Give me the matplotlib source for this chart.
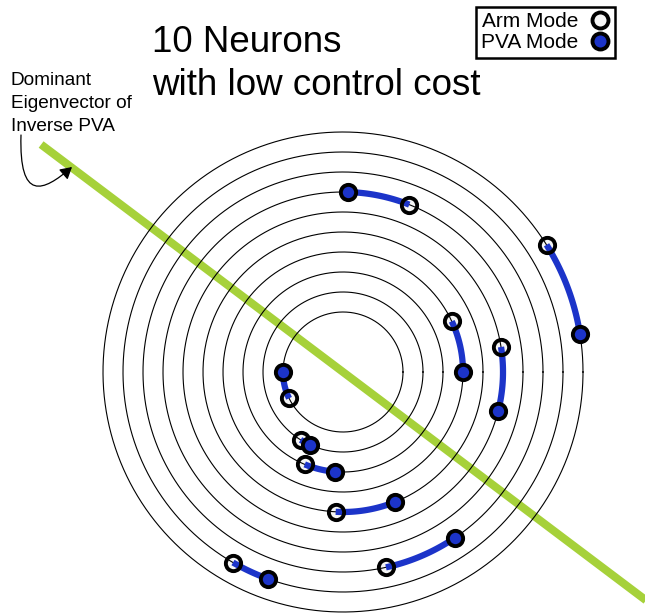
import numpy as np
import matplotlib
matplotlib.use('Agg')
import matplotlib.pyplot as plt
from matplotlib.path import Path
from matplotlib.patches import FancyArrowPatch
from matplotlib.lines import Line2D

plt.rcParams['font.family'] = ['Liberation Sans', 'DejaVu Sans']

# Dados: um anel por neuronio (raio em unidades de 20 px), angulos em graus
raios = [3, 4, 5, 6, 7, 8, 9, 10, 11, 12]
angulo_braco = [206, 238, 247.5, 25, 267, 9, 68.4, 282.4, 240, 32]
angulo_pva = [180, 246, 265.5, 0, 292, -14, 88.3, 304, 250, 9]
angulo_autovetor = 143.0   # direcao do autovetor dominante
comprimento_autovetor = (18.9, 25.0)

AZUL = '#1c34c9'
VERDE = '#a6d13a'
LARGURA, ALTURA = 645, 616
CX, CY = 343, 372   # centro dos aneis em pixels

fig = plt.figure(figsize=(LARGURA / 100, ALTURA / 100), dpi=100)
ax = fig.add_axes([0, 0, 1, 1])
ax.set_xlim(-CX / 20, (LARGURA - CX) / 20)
ax.set_ylim(-(ALTURA - CY) / 20, CY / 20)
ax.axis('off')

# Passo 1: autovetor
a = np.deg2rad(angulo_autovetor)
ax.plot([comprimento_autovetor[0] * np.cos(a), -comprimento_autovetor[1] * np.cos(a)],
        [comprimento_autovetor[0] * np.sin(a), -comprimento_autovetor[1] * np.sin(a)],
        color=VERDE, lw=5.8, solid_capstyle='butt', zorder=1)

# Passo 2: aneis
t = np.linspace(0, 2 * np.pi, 400)
for r in raios:
    ax.plot(r * np.cos(t), r * np.sin(t), color='black', lw=0.8, zorder=3)

# Passo 3: arcos e modos
for r, ab, ap in zip(raios, angulo_braco, angulo_pva):
    th = np.deg2rad(np.linspace(ab, ap, 60))
    xb, yb = r * np.cos(np.deg2rad(ab)), r * np.sin(np.deg2rad(ab))
    xp, yp = r * np.cos(np.deg2rad(ap)), r * np.sin(np.deg2rad(ap))
    ax.plot(xb, yb, 'o', ms=11, mfc='#f5f5f5', mec='none', zorder=2)
    ax.plot(r * np.cos(th), r * np.sin(th), color=AZUL, lw=4.5,
            solid_capstyle='butt', zorder=4)
    ax.plot(xb, yb, 'o', ms=11, mfc='none', mec='black', mew=2.8, zorder=5)
    ax.plot(xp, yp, 'o', ms=11, mfc=AZUL, mec='black', mew=2.8, zorder=6)

# Passo 4: textos
fig.text(152 / LARGURA, 1 - 52 / ALTURA, '10 Neurons', fontsize=26.5, va='baseline')
fig.text(152 / LARGURA, 1 - 95 / ALTURA, 'with low control cost', fontsize=26.5, va='baseline')
fig.text(11 / LARGURA, 1 - 85 / ALTURA, 'Dominant', fontsize=13.7, va='baseline')
fig.text(11 / LARGURA, 1 - 108 / ALTURA, 'Eigenvector of', fontsize=13.7, va='baseline')
fig.text(11 / LARGURA, 1 - 131 / ALTURA, 'Inverse PVA', fontsize=13.7, va='baseline')

# Passo 5: seta curva
caminho = Path([(-16.1, 11.85), (-16.2, 8.5), (-15.0, 9.0), (-13.55, 10.25)],
               [Path.MOVETO, Path.CURVE4, Path.CURVE4, Path.CURVE4])
ax.add_patch(FancyArrowPatch(path=caminho, arrowstyle='-|>,head_length=7,head_width=4',
                             color='black', lw=0.9, zorder=7))

# Passo 6: legenda
alcas = [Line2D([], [], ls='none', marker='o', ms=11.5, mfc='#f5f5f5', mec='black', mew=2.8),
         Line2D([], [], ls='none', marker='o', ms=11.5, mfc=AZUL, mec='black', mew=2.8)]
leg = fig.legend(alcas, ['Arm Mode', 'PVA Mode'], loc='upper right',
                 bbox_to_anchor=(615 / LARGURA, 1 - 7 / ALTURA), fontsize=15,
                 markerfirst=False, fancybox=False, handlelength=0.9,
                 handletextpad=0.6, borderpad=0.25, labelspacing=0.1,
                 borderaxespad=0, framealpha=1)
leg.get_frame().set_edgecolor('black')
leg.get_frame().set_linewidth(1.8)

fig.savefig('out.png', dpi=100)
